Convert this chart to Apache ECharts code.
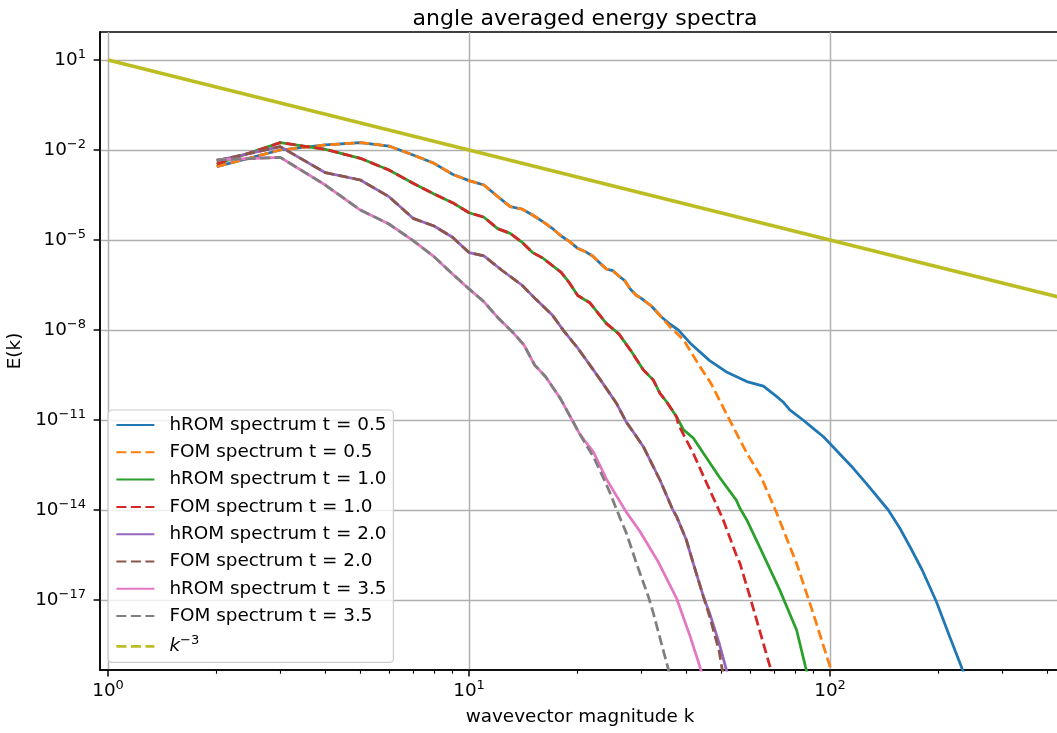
<!DOCTYPE html>
<html>
<head>
<meta charset="utf-8">
<script src="https://cdn.jsdelivr.net/npm/echarts@6/dist/echarts.min.js"></script>
<style>
html,body{margin:0;padding:0;background:#fff;}
#c{width:1057px;height:733px;}
</style>
</head>
<body>
<div id="c"></div>
<script>
// ---- data (k and log10 of E(k)) ----
const kT05 = [2,3,4,5,6,7,8,9,10,11,12,13,14,15,16,17,18,19,20,21,22,23,24,25,26,27,28,29,30,32,34];
const lgT05 = [-2.556,-2.0,-1.833,-1.756,-1.867,-2.167,-2.444,-2.81,-3.022,-3.167,-3.55,-3.889,-3.967,-4.167,-4.389,-4.61,-4.867,-5.056,-5.278,-5.389,-5.533,-5.756,-5.967,-6.022,-6.2,-6.356,-6.644,-6.833,-6.944,-7.2,-7.55];
const kHrom05Tail = [36,38,41,46.4,51.5,58.8,65.4,71.2,74,77.5,84.2,89.8,95.9,101.9,116,126,145,156,167,180,197,215,232.6,245];
const lgHrom05Tail = [-7.8,-8.0,-8.44,-9.02,-9.39,-9.72,-9.87,-10.22,-10.39,-10.67,-11.0,-11.28,-11.56,-11.89,-12.61,-13.11,-14.0,-14.6,-15.25,-16.0,-17.05,-18.25,-19.31,-20.0];
const kFom05Tail = [36,39.3,43.6,46.9,52.7,58.8,64.4,71.2,80.8,89.8,100,102];
const lgFom05Tail = [-7.89,-8.33,-9.22,-9.8,-11.0,-12.1,-12.89,-14.11,-15.78,-17.44,-19.22,-19.7];

const kT10 = [2,3,4,5,6,7,8,9,10,11,12,13,14,15,16,18,19,20,21.6,24,26,28,30.4,32.4,33.8,35.3,37.6];
const lgT10 = [-2.467,-1.756,-1.978,-2.278,-2.667,-3.11,-3.467,-3.756,-4.09,-4.24,-4.62,-4.78,-5.07,-5.42,-5.6,-6.08,-6.44,-6.85,-7.09,-7.78,-8.13,-8.67,-9.33,-9.67,-10.11,-10.4,-10.9];
const kHrom10Tail = [39.3,41.8,44.6,49.3,55,56.3,58.8,64.1,72.6,80.8,85.5,88];
const lgHrom10Tail = [-11.33,-11.6,-12.11,-12.89,-13.67,-13.94,-14.33,-15.28,-16.67,-18.0,-19.22,-19.8];
const kFom10Tail = [38,40,41.8,45.5,50.5,55,56.3,60,68.2,70];
const lgFom10Tail = [-11.15,-11.67,-12.11,-13.1,-14.3,-15.5,-15.78,-16.89,-19.22,-19.8];

const kT20 = [2,3,4,5,6,7,8,9,10,11,12.3,14,15.3,17,18.3,20,22.1,23.3,25.6,27.3,28.9,30.4,33.8,36.7,37.6,40,41.8,44.6];
const lgT20 = [-2.357,-1.889,-2.756,-3.0,-3.556,-4.278,-4.533,-4.91,-5.42,-5.53,-6.0,-6.5,-6.97,-7.5,-8.03,-8.6,-9.33,-9.72,-10.44,-11.08,-11.5,-11.89,-13.0,-14.0,-14.22,-15.0,-15.78,-16.89];
const kHrom20Tail = [46.4,49.3,51.5,53];
const lgHrom20Tail = [-17.44,-18.44,-19.28,-19.8];
const kFom20Tail = [46.4,49.3,50.2,52];
const lgFom20Tail = [-17.55,-18.7,-19.28,-19.9];

const kT35 = [2,3,4,5,6,7,8,9,10,11,12,13.3,14.2,15.2,16.3,17.9,19.4,20.2];
const lgT35 = [-2.333,-2.244,-3.167,-4.0,-4.467,-5.02,-5.556,-6.13,-6.63,-7.06,-7.58,-8.11,-8.5,-9.17,-9.56,-10.28,-11.05,-11.44];
const kHrom35Tail = [21.1,22.1,24.1,27.3,29.7,33.4,37.6,41,43.6,45];
const lgHrom35Tail = [-11.75,-12.06,-13.0,-14.08,-14.7,-15.72,-16.95,-18.22,-19.22,-19.8];
const kFom35Tail = [21.1,22.1,23.7,24.6,26.1,27.3,29.1,31.4,32.4,35.5,36.5];
const lgFom35Tail = [-11.83,-12.22,-13.0,-13.44,-14.22,-14.78,-15.78,-16.89,-17.44,-19.22,-19.8];

const kRef = [1, 500];
const eRef = [10, 8e-8];

const xMajorTicks = [1, 10, 100];
const xMinorTicks = [2,3,4,5,6,7,8,9,20,30,40,50,60,70,80,90,200,300,400];
const yMajorTicks = [10, 1e-2, 1e-5, 1e-8, 1e-11, 1e-14, 1e-17];

const names = ['hROM spectrum t = 0.5','FOM spectrum t = 0.5','hROM spectrum t = 1.0','FOM spectrum t = 1.0',
               'hROM spectrum t = 2.0','FOM spectrum t = 2.0','hROM spectrum t = 3.5','FOM spectrum t = 3.5','k^-3'];
const colors = ['#1f77b4','#ff7f0e','#2ca02c','#d62728','#9467bd','#8c564b','#e377c2','#7f7f7f','#bcbd22'];

function pairs(ks, lgs) { return ks.map((k, i) => [k, Math.pow(10, lgs[i])]); }
const seriesData = [
  pairs(kT05.concat(kHrom05Tail), lgT05.concat(lgHrom05Tail)),
  pairs(kT05.concat(kFom05Tail), lgT05.concat(lgFom05Tail)),
  pairs(kT10.concat(kHrom10Tail), lgT10.concat(lgHrom10Tail)),
  pairs(kT10.concat(kFom10Tail), lgT10.concat(lgFom10Tail)),
  pairs(kT20.concat(kHrom20Tail), lgT20.concat(lgHrom20Tail)),
  pairs(kT20.concat(kFom20Tail), lgT20.concat(lgFom20Tail)),
  pairs(kT35.concat(kHrom35Tail), lgT35.concat(lgHrom35Tail)),
  pairs(kT35.concat(kFom35Tail), lgT35.concat(lgFom35Tail)),
  kRef.map((k, i) => [k, eRef[i]])
];

const FONT = 'DejaVu Sans';
const LW = 2.76;
const DASH = [10, 4.5];

function powLabel(v) {
  const e = Math.round(Math.log10(v));
  const s = e < 0 ? '\u2212' + (-e) : String(e);
  return '{b|10}{s|' + s + '}';
}
const powRich = {
  b: { fontSize: 18.4, fontFamily: FONT, color: '#000', lineHeight: 24, verticalAlign: 'middle' },
  s: { fontSize: 13, fontFamily: FONT, color: '#000', lineHeight: 13, verticalAlign: 'top' }
};

const series = seriesData.map((d, i) => {
  const dashed = (i % 2 === 1) && i < 8;
  return {
    name: names[i],
    type: 'line',
    data: d,
    xAxisIndex: 0,
    yAxisIndex: 0,
    symbol: 'none',
    showSymbol: false,
    smooth: false,
    clip: true,
    animation: false,
    lineStyle: { color: colors[i], width: i === 8 ? 3.6 : LW, type: dashed ? DASH : 'solid' },
    itemStyle: { color: colors[i] },
    emphasis: { disabled: true }
  };
});

const legendData = names.map((n, i) => {
  if (i === 8) return { name: n, lineStyle: { type: DASH, width: LW, color: colors[8] } };
  return { name: n };
});

const chart = echarts.init(document.getElementById('c'), null, { renderer: 'canvas' });
chart.setOption({
  animation: false,
  backgroundColor: '#fff',
  title: {
    text: 'angle averaged energy spectra',
    left: 580, top: 3, textAlign: 'center',
    textStyle: { fontFamily: FONT, fontSize: 22, fontWeight: 'normal', color: '#000' }
  },
  grid: {
    left: 100, top: 32, width: 960, height: 638,
    show: true, borderColor: '#000', borderWidth: 1.5, backgroundColor: 'transparent',
    containLabel: false, outerBoundsMode: 'none'
  },
  legend: {
    orient: 'vertical',
    left: 108, top: 410,
    itemWidth: 38, itemHeight: 14, itemGap: 9.3,
    padding: [6, 7, 4, 7],
    backgroundColor: 'rgba(255,255,255,0.8)',
    borderColor: '#cccccc', borderWidth: 1.2, borderRadius: 4,
    selectedMode: false,
    data: legendData,
    itemStyle: { color: 'transparent', borderColor: 'transparent', borderWidth: 0, opacity: 0 },
    formatter: function (n) { return n === 'k^-3' ? '{it|k}{sup|\u22123}' : n; },
    textStyle: {
      fontFamily: FONT, fontSize: 18.4, color: '#000', lineHeight: 18, padding: [0, 0, 0, 10],
      rich: {
        it: { fontFamily: FONT, fontSize: 18.4, fontStyle: 'italic', color: '#000', lineHeight: 24, verticalAlign: 'middle' },
        sup: { fontFamily: FONT, fontSize: 13, color: '#000', lineHeight: 13, verticalAlign: 'top' }
      }
    }
  },
  xAxis: [
    {
      type: 'log', logBase: 10, min: 0.95, max: 433.6, gridIndex: 0, position: 'bottom',
      name: 'wavevector magnitude k', nameLocation: 'middle', nameGap: 38,
      nameTextStyle: { fontFamily: FONT, fontSize: 18.4, color: '#000' },
      axisLine: { show: true, lineStyle: { color: '#000', width: 1.5 } },
      axisTick: { show: true, inside: false, length: 6.4, lineStyle: { color: '#000', width: 1.5 }, customValues: xMajorTicks },
      minorTick: { show: false },
      axisLabel: { show: true, margin: 9, customValues: xMajorTicks, formatter: powLabel, rich: powRich },
      splitLine: { show: true, lineStyle: { color: '#b0b0b0', width: 1.47 } },
      minorSplitLine: { show: false }
    },
    {
      type: 'log', logBase: 10, min: 0.95, max: 433.6, gridIndex: 0, position: 'bottom',
      axisLine: { show: false },
      axisTick: { show: true, inside: false, length: 3.7, lineStyle: { color: '#000', width: 1.1 }, customValues: xMinorTicks },
      axisLabel: { show: false },
      splitLine: { show: false }
    }
  ],
  yAxis: [
    {
      type: 'log', logBase: 10, min: 4.64e-20, max: 85.8, gridIndex: 0, position: 'left',
      name: 'E(k)', nameLocation: 'middle', nameGap: 64, nameRotate: 90,
      nameTextStyle: { fontFamily: FONT, fontSize: 18.4, color: '#000' },
      axisLine: { show: true, lineStyle: { color: '#000', width: 1.5 } },
      axisTick: { show: true, inside: false, length: 6.4, lineStyle: { color: '#000', width: 1.5 }, customValues: yMajorTicks },
      axisLabel: { show: true, margin: 14, customValues: yMajorTicks, formatter: powLabel, rich: powRich },
      splitLine: { show: true, lineStyle: { color: '#b0b0b0', width: 1.47 } }
    }
  ],
  series: series
});
</script>
</body>
</html>
